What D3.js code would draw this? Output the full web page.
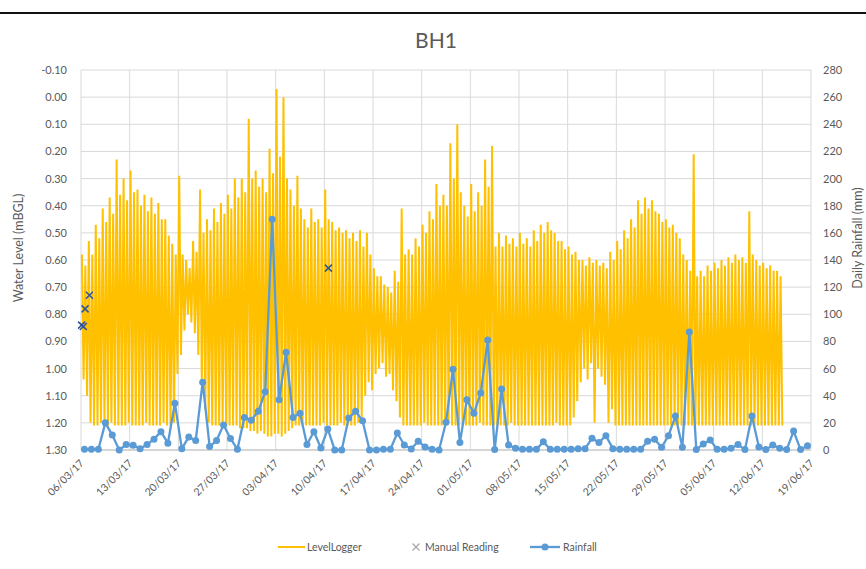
<!DOCTYPE html>
<html><head><meta charset="utf-8">
<script src="https://cdn.jsdelivr.net/npm/d3@7"></script>
<style>
body{margin:0;background:#fff}
svg{display:block}
text{font-family:Lato,"Open Sans",sans-serif;fill:#595959}
</style></head>
<body><svg id="chart" width="866" height="569"></svg>
<script>
// ---------------- DATA ----------------
const chartTitle = "BH1";
const tickDates = ["2017-03-06","2017-03-13","2017-03-20","2017-03-27","2017-04-03","2017-04-10","2017-04-17","2017-04-24","2017-05-01","2017-05-08","2017-05-15","2017-05-22","2017-05-29","2017-06-05","2017-06-12","2017-06-19"];
const levelTicks = [-0.10,0.00,0.10,0.20,0.30,0.40,0.50,0.60,0.70,0.80,0.90,1.00,1.10,1.20,1.30];
const rainTicks = [0,20,40,60,80,100,120,140,160,180,200,220,240,260,280];

// Level logger: per day from 06/03/17, [high1, low1, high2, low2] (mBGL), readings every 6 h
const levelFirstDay = "2017-03-06";
const levelTide = [
 [0.58,1.04,0.62,1.10],[0.53,1.20,0.58,1.21],[0.47,1.21,0.52,1.20],[0.41,1.21,0.46,1.21],
 [0.37,1.20,0.43,1.21],[0.23,1.21,0.36,1.21],[0.30,1.21,0.38,1.20],[0.27,1.21,0.35,1.21],
 [0.34,1.21,0.40,1.21],[0.36,1.20,0.42,1.21],[0.37,1.21,0.43,1.21],[0.39,1.21,0.45,1.20],
 [0.45,1.21,0.51,1.21],[0.54,1.20,0.58,1.02],[0.29,0.95,0.58,0.86],[0.60,0.80,0.63,0.83],
 [0.53,0.87,0.57,0.95],[0.34,1.05,0.50,1.15],[0.45,1.20,0.49,1.21],[0.41,1.21,0.46,1.21],
 [0.39,1.21,0.43,1.21],[0.36,1.21,0.41,1.21],[0.30,1.21,0.37,1.22],[0.30,1.22,0.35,1.22],
 [0.08,1.23,0.30,1.23],[0.27,1.24,0.33,1.23],[0.30,1.24,0.35,1.25],[0.19,1.25,0.28,1.24],
 [-0.03,1.24,0.22,1.25],[0.00,1.24,0.30,1.23],[0.34,1.22,0.40,1.21],[0.29,1.21,0.41,1.21],
 [0.45,1.21,0.48,1.21],[0.41,1.21,0.46,1.21],[0.45,1.21,0.48,1.20],[0.34,1.21,0.45,1.21],
 [0.46,1.21,0.49,1.21],[0.48,1.20,0.50,1.21],[0.49,1.21,0.52,1.21],[0.50,1.21,0.53,1.20],
 [0.49,1.18,0.55,1.10],[0.50,1.05,0.58,1.08],[0.63,1.02,0.66,1.00],[0.66,0.98,0.69,1.03],
 [0.70,1.02,0.72,1.08],[0.64,1.12,0.68,1.18],[0.41,1.21,0.58,1.21],[0.56,1.21,0.58,1.21],
 [0.52,1.21,0.55,1.21],[0.47,1.20,0.50,1.21],[0.42,1.21,0.45,1.21],[0.32,1.21,0.40,1.21],
 [0.36,1.21,0.40,1.20],[0.17,1.21,0.30,1.21],[0.10,1.21,0.35,1.21],[0.40,1.21,0.44,1.21],
 [0.32,1.21,0.42,1.21],[0.35,1.20,0.40,1.21],[0.23,1.21,0.33,1.21],[0.18,1.21,0.55,1.21],
 [0.50,1.21,0.55,1.21],[0.51,1.21,0.54,1.20],[0.52,1.21,0.55,1.21],[0.50,1.21,0.54,1.21],
 [0.52,1.21,0.55,1.21],[0.49,1.21,0.53,1.21],[0.47,1.21,0.50,1.21],[0.46,1.21,0.49,1.21],
 [0.50,1.20,0.53,1.21],[0.53,1.21,0.56,1.21],[0.55,1.21,0.58,1.18],[0.57,1.12,0.60,1.05],
 [0.60,1.00,0.62,1.04],[0.59,0.98,0.61,1.20],[0.60,1.00,0.62,1.03],[0.61,1.06,0.63,1.20],
 [0.57,1.15,0.60,1.21],[0.53,1.21,0.56,1.21],[0.49,1.21,0.52,1.21],[0.45,1.21,0.48,1.21],
 [0.38,1.21,0.43,1.21],[0.37,1.21,0.41,1.21],[0.38,1.21,0.42,1.21],[0.43,1.21,0.46,1.21],
 [0.45,1.21,0.48,1.21],[0.47,1.21,0.50,1.21],[0.52,1.21,0.58,1.21],[0.60,1.21,0.64,1.21],
 [0.21,1.21,0.66,1.21],[0.64,1.21,0.66,1.21],[0.62,1.21,0.64,1.21],[0.61,1.21,0.63,1.21],
 [0.60,1.21,0.62,1.21],[0.59,1.21,0.61,1.21],[0.58,1.21,0.60,1.21],[0.59,1.21,0.61,1.21],
 [0.42,1.21,0.58,1.21],[0.60,1.21,0.62,1.21],[0.61,1.21,0.63,1.21],[0.62,1.21,0.64,1.21],
 [0.64,1.21,0.66,1.21]
];

// Manual readings
const manualDates = ["2017-03-06T02:00","2017-03-06T08:00","2017-03-06T14:00","2017-03-07T05:00","2017-04-10T14:00"];
const manualValues = [0.84,0.845,0.78,0.73,0.63];

// Daily rainfall (mm), one value per day from 06/03/17 (plotted at midday)
const rainFirstDay = "2017-03-06T12:00";
const rainValues = [
 0.5,0.5,0.5,20,11,0,4,3.5,1,4,
 8,13.5,5,34.5,1,9.5,7,50,2.5,7,
 18.5,8.5,0.5,24,22,28.5,43,170,37,72,
 24,27,4,13.5,1.5,15.5,0,0,23.5,28.5,
 21.5,0,0,0.5,0.5,12.5,3.7,0.8,6.5,2.3,
 0.5,0,20.5,59.5,5.5,37,27,42,81,0.3,
 45,3.7,1.2,0.5,0.5,0.5,6,0.5,0.5,0.5,
 0.5,1,1,8.6,5.5,10.5,1,0.5,0.5,0.5,
 0.5,6.5,8,2,10.5,25,2,87,0.3,4.5,
 7.4,0.5,0.5,1.2,4,0.3,25,2.3,0.3,3.7,
 1.2,0.3,14,0.3,3.2
];

const legendLabels = ["LevelLogger","Manual Reading","Rainfall"];

// ---------------- CHART ----------------
const DAY = 864e5;
const utc = s => new Date(s + (s.length === 10 ? "T00:00:00Z" : "Z"));
const svg = d3.select("#chart");
const L = 81, R = 811, T = 70, B = 450;
const colLevel = "#FFC000", colRain = "#5B9BD5", colManual = "#2F5597", colGrid = "#D9D9D9";

const x = d3.scaleUtc().domain([utc(tickDates[0]), utc(tickDates[tickDates.length-1])]).range([L, R]);
const yL = d3.scaleLinear().domain([-0.10, 1.30]).range([T, B]);
const yR = d3.scaleLinear().domain([0, 280]).range([B, T]);

// top page rule
svg.append("line").attr("x1",0).attr("x2",866).attr("y1",13).attr("y2",13).attr("stroke","#111").attr("stroke-width",2);

// title
svg.append("text").attr("x",436).attr("y",48).attr("text-anchor","middle").style("font-size","21px").text(chartTitle);

// gridlines
const g = svg.append("g");
g.selectAll(".hg").data(levelTicks).join("line")
  .attr("x1",L).attr("x2",R).attr("y1",d=>yL(d)).attr("y2",d=>yL(d))
  .attr("stroke",colGrid).attr("stroke-width",1);
g.selectAll(".vg").data(tickDates).join("line")
  .attr("x1",d=>x(utc(d))).attr("x2",d=>x(utc(d))).attr("y1",T).attr("y2",B)
  .attr("stroke",colGrid).attr("stroke-width",1);
svg.append("line").attr("x1",L).attr("x2",R).attr("y1",B).attr("y2",B).attr("stroke","#BFBFBF");

// left axis
const fmtLevel = d => d3.format(".2f")(d).replace("\u2212","-");
const axL = svg.append("g").attr("transform",`translate(${L},0)`)
  .call(d3.axisLeft(yL).tickValues(levelTicks).tickFormat(fmtLevel).tickSize(0).tickPadding(14));
axL.select(".domain").remove();
axL.selectAll("text").style("font-size","11px").style("fill","#595959").attr("font-family",null);

// right axis
const axR = svg.append("g").attr("transform",`translate(${R},0)`)
  .call(d3.axisRight(yR).tickValues(rainTicks).tickFormat(d3.format("d")).tickSize(0).tickPadding(12));
axR.select(".domain").remove();
axR.selectAll("text").style("font-size","11px").style("fill","#595959").attr("font-family",null);

// bottom axis
const axB = svg.append("g").attr("transform",`translate(0,${B})`)
  .call(d3.axisBottom(x).tickValues(tickDates.map(utc)).tickFormat(d3.utcFormat("%d/%m/%y")).tickSize(0));
axB.select(".domain").remove();
axB.selectAll("text").style("font-size","10.5px").style("fill","#595959").attr("font-family",null)
  .attr("text-anchor","end").attr("dy",null).attr("y",0)
  .attr("transform","translate(3,14) rotate(-45)");

// axis titles
svg.append("text").attr("transform","translate(23,248) rotate(-90)").attr("text-anchor","middle").style("font-size","12.5px").text("Water Level (mBGL)");
svg.append("text").attr("transform","translate(862,238) rotate(-90)").attr("text-anchor","middle").style("font-size","12.5px").text("Daily Rainfall (mm)");

// level logger line
const t0 = utc(levelFirstDay).getTime();
const levelPts = [];
levelTide.forEach((row,d)=>row.forEach((v,k)=>levelPts.push({t:new Date(t0 + (d + 0.125 + 0.25*k)*DAY), v})));
svg.append("path").datum(levelPts)
  .attr("d", d3.line().x(p=>x(p.t)).y(p=>yL(p.v)))
  .attr("fill","none").attr("stroke",colLevel).attr("stroke-width",2).attr("stroke-linejoin","bevel");

// rainfall
const r0 = utc(rainFirstDay).getTime();
const rainPts = rainValues.map((v,i)=>({t:new Date(r0 + i*DAY), v}));
svg.append("path").datum(rainPts)
  .attr("d", d3.line().x(p=>x(p.t)).y(p=>yR(p.v)))
  .attr("fill","none").attr("stroke",colRain).attr("stroke-width",2.3);
svg.selectAll(".rd").data(rainPts).join("circle")
  .attr("cx",p=>x(p.t)).attr("cy",p=>yR(p.v)).attr("r",3.5).attr("fill",colRain);

// manual readings
const xMark = "M-3.5,-3.5L3.5,3.5M-3.5,3.5L3.5,-3.5";
svg.selectAll(".mr").data(manualDates.map((d,i)=>({t:utc(d), v:manualValues[i]}))).join("path")
  .attr("d",xMark).attr("transform",p=>`translate(${x(p.t)},${yL(p.v)})`)
  .attr("stroke",colManual).attr("stroke-width",1.5).attr("fill","none");

// legend
const ly = 547;
const lg = svg.append("g");
lg.append("line").attr("x1",278).attr("x2",305).attr("y1",ly).attr("y2",ly).attr("stroke",colLevel).attr("stroke-width",2);
lg.append("text").attr("x",307).attr("y",ly+4).style("font-size","10.5px").text(legendLabels[0]);
lg.append("path").attr("d",xMark).attr("transform",`translate(416,${ly})`).attr("stroke","#A6A6A6").attr("stroke-width",1.2);
lg.append("text").attr("x",425).attr("y",ly+4).style("font-size","10.5px").text(legendLabels[1]);
lg.append("line").attr("x1",530).attr("x2",560).attr("y1",ly).attr("y2",ly).attr("stroke",colRain).attr("stroke-width",2.3);
lg.append("circle").attr("cx",545).attr("cy",ly).attr("r",3.5).attr("fill",colRain);
lg.append("text").attr("x",563).attr("y",ly+4).style("font-size","10.5px").text(legendLabels[2]);
</script></body></html>
